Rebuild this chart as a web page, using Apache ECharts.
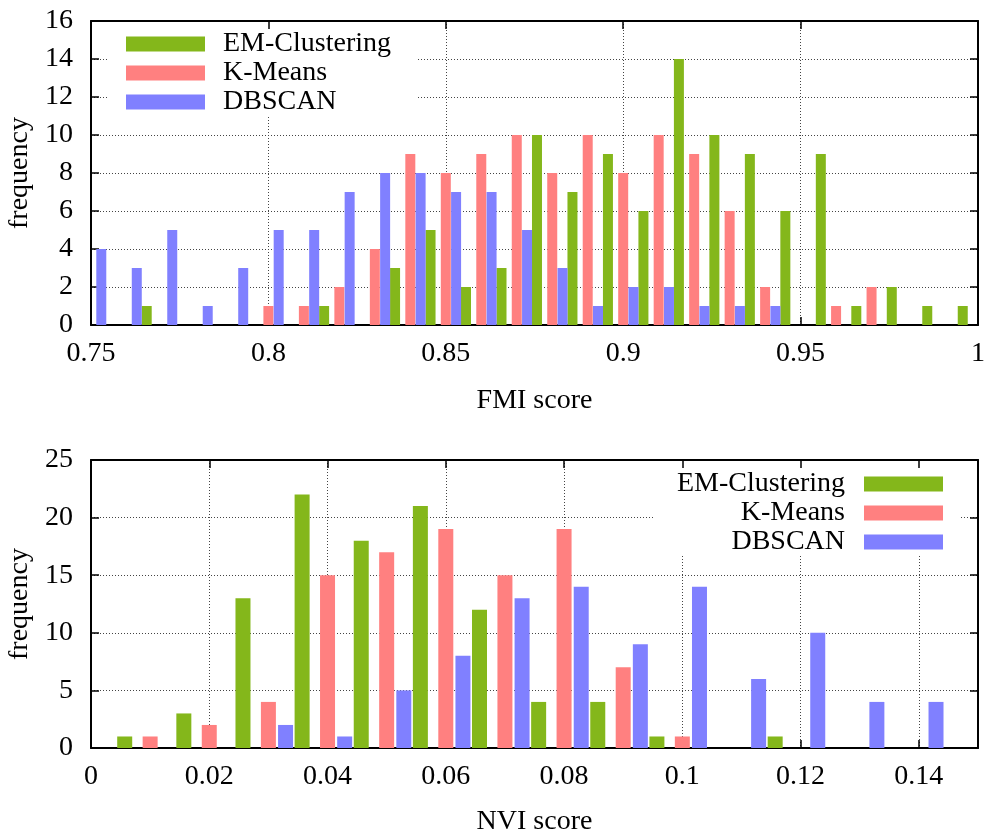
<!DOCTYPE html>
<html>
<head>
<meta charset="utf-8">
<script src="https://cdn.jsdelivr.net/npm/echarts@6/dist/echarts.min.js"></script>
<style>
  html, body { margin: 0; padding: 0; background: #fff; }
  #chart { width: 987px; height: 831px; }
</style>
</head>
<body>
<div id="chart"></div>
<script>
// Method names (legend order)
const seriesNames = ['EM-Clustering', 'K-Means', 'DBSCAN'];

// FMI score histogram: left edge of each 0.01-wide bin and the counts per method
const fmiBins = [0.75, 0.76, 0.77, 0.78, 0.79, 0.80, 0.81, 0.82, 0.83, 0.84, 0.85, 0.86, 0.87,
                 0.88, 0.89, 0.90, 0.91, 0.92, 0.93, 0.94, 0.95, 0.96, 0.97, 0.98, 0.99];
const fmiEM     = [0, 1, 0, 0, 0, 0, 1, 0, 3, 5, 2, 3, 10, 7, 9, 6, 14, 10, 9, 6, 9, 1, 2, 1, 1];
const fmiKMeans = [0, 0, 0, 0, 0, 1, 1, 2, 4, 9, 8, 9, 10, 8, 10, 8, 10, 9, 6, 2, 0, 1, 2, 0, 0];
const fmiDBSCAN = [4, 3, 5, 1, 3, 5, 5, 7, 8, 8, 7, 7, 5, 3, 1, 2, 2, 1, 1, 1, 0, 0, 0, 0, 0];
const fmiTicks = [0.75, 0.8, 0.85, 0.9, 0.95, 1];
const fmiFreqTicks = [0, 2, 4, 6, 8, 10, 12, 14, 16];

// NVI score histogram
const nviBins = [0, 0.01, 0.02, 0.03, 0.04, 0.05, 0.06, 0.07, 0.08, 0.09, 0.10, 0.11, 0.12, 0.13, 0.14];
const nviEM     = [1, 3, 13, 22, 18, 21, 12, 4, 4, 1, 0, 1, 0, 0, 0];
const nviKMeans = [0, 1, 2, 4, 15, 17, 19, 15, 19, 7, 1, 0, 0, 0, 0];
const nviDBSCAN = [0, 0, 0, 2, 1, 5, 8, 13, 14, 9, 14, 6, 10, 4, 4];
const nviTicks = [0, 0.02, 0.04, 0.06, 0.08, 0.1, 0.12, 0.14];
const nviFreqTicks = [0, 5, 10, 15, 20, 25];

// ---- styling / layout ----
const COLORS = { 'EM-Clustering': '#84b71b', 'K-Means': '#ff8080', 'DBSCAN': '#8080ff' };
// position of each method's bar inside a bin (K-Means, DBSCAN, EM from left to right)
const OFFSETS = { 'K-Means': 0, 'DBSCAN': 0.0029, 'EM-Clustering': 0.0057 };
const FONT = 'Liberation Serif';
const FS = 28;

const textBase = { fontFamily: FONT, fontSize: FS, color: '#000' };
const gridLine = { show: true, lineStyle: { color: '#444', width: 1, type: [1, 2] } };
const frame = { show: true, onZero: false, lineStyle: { color: '#000', width: 2 } };
const tickIn = { show: true, inside: true, length: 8, lineStyle: { color: '#000', width: 1.5 } };

function labelFrom(ticks) {
  return function (v) {
    const t = ticks.find(function (x) { return Math.abs(x - v) < 1e-9; });
    return t === undefined ? '' : String(t);
  };
}

function mainX(grid, ticks, max, name, nameGap) {
  return {
    type: 'value', gridIndex: grid, position: 'bottom', z: 0,
    min: ticks[0], max: max, interval: ticks[1] - ticks[0],
    axisLine: frame, axisTick: tickIn, splitLine: gridLine,
    axisLabel: Object.assign({ margin: 15, showMinLabel: true, showMaxLabel: true, formatter: labelFrom(ticks) }, textBase),
    name: name, nameLocation: 'middle', nameGap: nameGap, nameTextStyle: textBase
  };
}
function mirrorX(grid, ticks, max) {
  return {
    type: 'value', gridIndex: grid, position: 'top', z: 5,
    min: ticks[0], max: max, interval: ticks[1] - ticks[0],
    axisLine: frame, axisTick: tickIn, splitLine: { show: false }, axisLabel: { show: false }
  };
}
function mainY(grid, ticks) {
  return {
    type: 'value', gridIndex: grid, position: 'left', z: 0,
    min: ticks[0], max: ticks[ticks.length - 1], interval: ticks[1] - ticks[0],
    axisLine: frame, axisTick: tickIn, splitLine: gridLine,
    axisLabel: Object.assign({ margin: 18, showMinLabel: true, showMaxLabel: true, formatter: labelFrom(ticks) }, textBase),
    name: 'frequency', nameLocation: 'middle', nameGap: 56, nameTextStyle: textBase
  };
}
function mirrorY(grid, ticks) {
  return {
    type: 'value', gridIndex: grid, position: 'right', z: 5,
    min: ticks[0], max: ticks[ticks.length - 1], interval: ticks[1] - ticks[0],
    axisLine: frame, axisTick: tickIn, splitLine: { show: false }, axisLabel: { show: false }
  };
}

function bars(name, bins, counts, axisIndex, width) {
  const off = OFFSETS[name];
  return {
    type: 'bar', name: name,
    xAxisIndex: axisIndex, yAxisIndex: axisIndex,
    barWidth: width, barGap: '-100%',
    itemStyle: { color: COLORS[name] },
    emphasis: { disabled: true },
    data: bins.map(function (b, i) { return [b + off, counts[i]]; })
              .filter(function (d) { return d[1] > 0; })
  };
}

function legend(pos, align, textPad) {
  return Object.assign({
    data: seriesNames, orient: 'vertical', align: align, padding: 0,
    itemWidth: 79, itemHeight: 15, itemGap: 1, icon: 'rect', selectedMode: false,
    textStyle: Object.assign({ padding: textPad }, textBase)
  }, pos);
}

const chart = echarts.init(document.getElementById('chart'), null, { renderer: 'canvas' });
chart.setOption({
  animation: false,
  backgroundColor: '#fff',
  grid: [
    { left: 91, top: 21, width: 887, height: 304, outerBoundsMode: 'none', containLabel: false },
    { left: 91, top: 460, width: 887, height: 288, outerBoundsMode: 'none', containLabel: false }
  ],
  xAxis: [
    mainX(0, fmiTicks, 1, 'FMI score', 62),
    mirrorX(0, fmiTicks, 1),
    mainX(1, nviTicks, 0.15, 'NVI score', 60),
    mirrorX(1, nviTicks, 0.15)
  ],
  yAxis: [
    mainY(0, fmiFreqTicks),
    mirrorY(0, fmiFreqTicks),
    mainY(1, nviFreqTicks),
    mirrorY(1, nviFreqTicks)
  ],
  legend: [
    legend({ left: 126, top: 30 }, 'left', [0, 0, 0, 13]),
    legend({ right: 44, top: 470 }, 'right', [0, 14, 0, 0])
  ],
  // opaque key boxes hiding the grid lines behind the legends
  graphic: {
    elements: [
      { type: 'rect', silent: true, z: 1, shape: { x: 108, y: 22, width: 308, height: 95 }, style: { fill: '#fff' } },
      { type: 'rect', silent: true, z: 1, shape: { x: 653, y: 461, width: 307, height: 95 }, style: { fill: '#fff' } }
    ]
  },
  series: [
    bars('EM-Clustering', fmiBins, fmiEM, 0, 10),
    bars('K-Means', fmiBins, fmiKMeans, 0, 10),
    bars('DBSCAN', fmiBins, fmiDBSCAN, 0, 10),
    bars('EM-Clustering', nviBins, nviEM, 2, 15),
    bars('K-Means', nviBins, nviKMeans, 2, 15),
    bars('DBSCAN', nviBins, nviDBSCAN, 2, 15)
  ]
});
</script>
</body>
</html>
